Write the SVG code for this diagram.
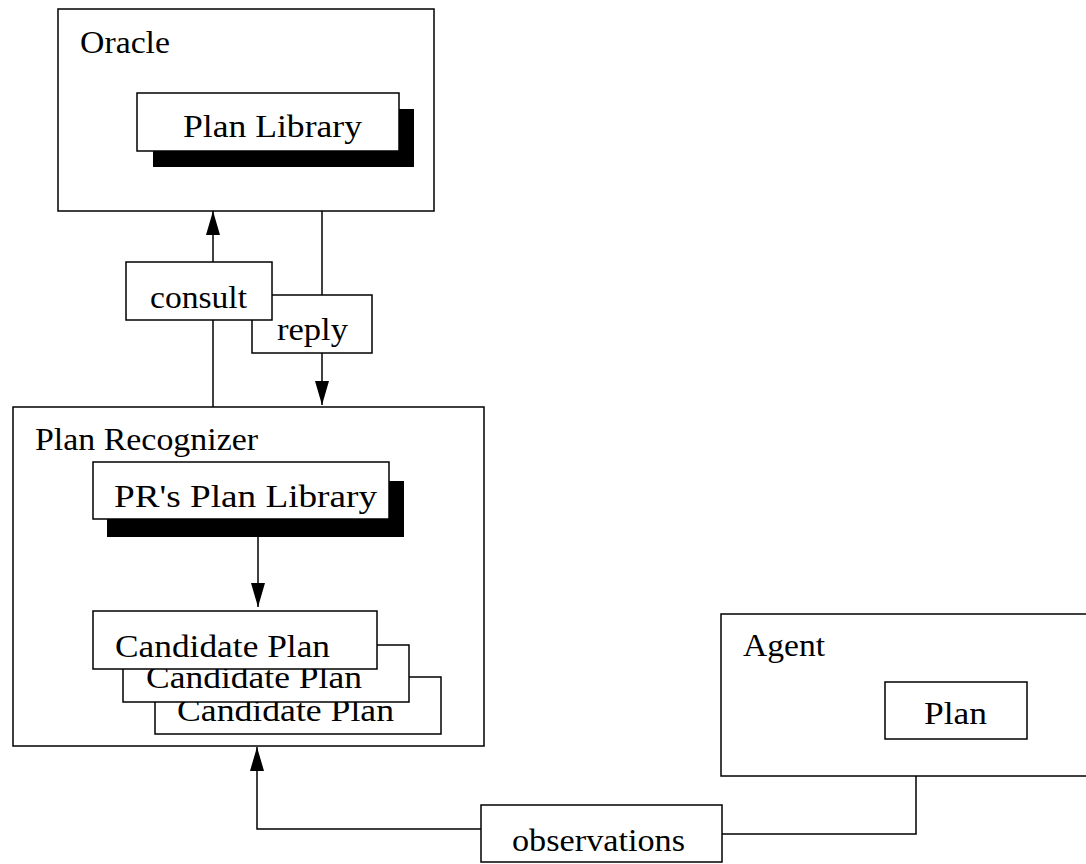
<svg xmlns="http://www.w3.org/2000/svg" width="1086" height="864" viewBox="0 0 1086 864">
  <style>
    .box { fill: #fff; stroke: #000; stroke-width: 1.5; }
    .shadow { fill: #000; stroke: none; }
    .lbl { font-family: "Liberation Serif", "Times New Roman", serif; font-size: 32px; fill: #000; }
    .wire { fill: none; stroke: #000; stroke-width: 1.5; }
  </style>
  <defs>
    <marker id="head" viewBox="0 0 24 14" refX="24" refY="7" markerWidth="24" markerHeight="14" markerUnits="userSpaceOnUse" orient="auto">
      <path d="M0,0 L24,7 L0,14 Z" fill="#000"/>
    </marker>
  </defs>
  <rect width="1086" height="864" fill="#fff"/>

  <!-- Oracle with its plan library -->
  <g id="oracle">
    <rect class="box" x="58" y="9" width="376" height="202"/>
    <text class="lbl" x="80" y="53" textLength="90" lengthAdjust="spacingAndGlyphs">Oracle</text>
  </g>
  <g id="oracle-library">
    <rect class="shadow" x="153" y="109" width="261" height="58"/>
    <rect class="box" x="137" y="93" width="262" height="58"/>
    <text class="lbl" x="183" y="137" textLength="179" lengthAdjust="spacingAndGlyphs">Plan Library</text>
  </g>

  <!-- Plan recognizer with its library and candidates -->
  <g id="recognizer">
    <rect class="box" x="13" y="407" width="471" height="339"/>
    <text class="lbl" x="35" y="450" textLength="223" lengthAdjust="spacingAndGlyphs">Plan Recognizer</text>
  </g>
  <g id="pr-library">
    <rect class="shadow" x="107" y="481" width="297" height="56"/>
    <rect class="box" x="93" y="462" width="296" height="57"/>
    <text class="lbl" x="114" y="507" textLength="263" lengthAdjust="spacingAndGlyphs">PR's Plan Library</text>
  </g>
  <g id="candidate-3">
    <rect class="box" x="155" y="677" width="286" height="57"/>
    <text class="lbl" x="177" y="721" textLength="217" lengthAdjust="spacingAndGlyphs">Candidate Plan</text>
  </g>
  <g id="candidate-2">
    <rect class="box" x="123" y="645" width="286" height="57"/>
    <text class="lbl" x="146" y="688" textLength="216" lengthAdjust="spacingAndGlyphs">Candidate Plan</text>
  </g>
  <g id="candidate-1">
    <rect class="box" x="93" y="611" width="284" height="58"/>
    <text class="lbl" x="115" y="657" textLength="215" lengthAdjust="spacingAndGlyphs">Candidate Plan</text>
  </g>

  <!-- Agent -->
  <g id="agent">
    <rect class="box" x="721" y="614" width="380" height="162"/>
    <text class="lbl" x="743" y="656" textLength="82" lengthAdjust="spacingAndGlyphs">Agent</text>
  </g>
  <g id="agent-plan">
    <rect class="box" x="885" y="682" width="142" height="57"/>
    <text class="lbl" x="924" y="724" textLength="63" lengthAdjust="spacingAndGlyphs">Plan</text>
  </g>

  <!-- Connectors -->
  <g id="connectors">
    <path class="wire" d="M213,407 V320"/>
    <path class="wire" d="M213,262 V211" marker-end="url(#head)"/>
    <path class="wire" d="M322,211 V295"/>
    <path class="wire" d="M322,353 V405" marker-end="url(#head)"/>
    <path class="wire" d="M258,537 V607" marker-end="url(#head)"/>
    <path class="wire" d="M481,829 H257 V747" marker-end="url(#head)"/>
    <path class="wire" d="M722,834 H916 V776"/>
  </g>

  <!-- Message labels -->
  <g id="reply">
    <rect class="box" x="252" y="295" width="120" height="58"/>
    <text class="lbl" x="277" y="340" textLength="71" lengthAdjust="spacingAndGlyphs">reply</text>
  </g>
  <g id="consult">
    <rect class="box" x="126" y="262" width="146" height="58"/>
    <text class="lbl" x="150" y="308" textLength="97" lengthAdjust="spacingAndGlyphs">consult</text>
  </g>
  <g id="observations">
    <rect class="box" x="481" y="805" width="241" height="57"/>
    <text class="lbl" x="512" y="851" textLength="173" lengthAdjust="spacingAndGlyphs">observations</text>
  </g>
</svg>
